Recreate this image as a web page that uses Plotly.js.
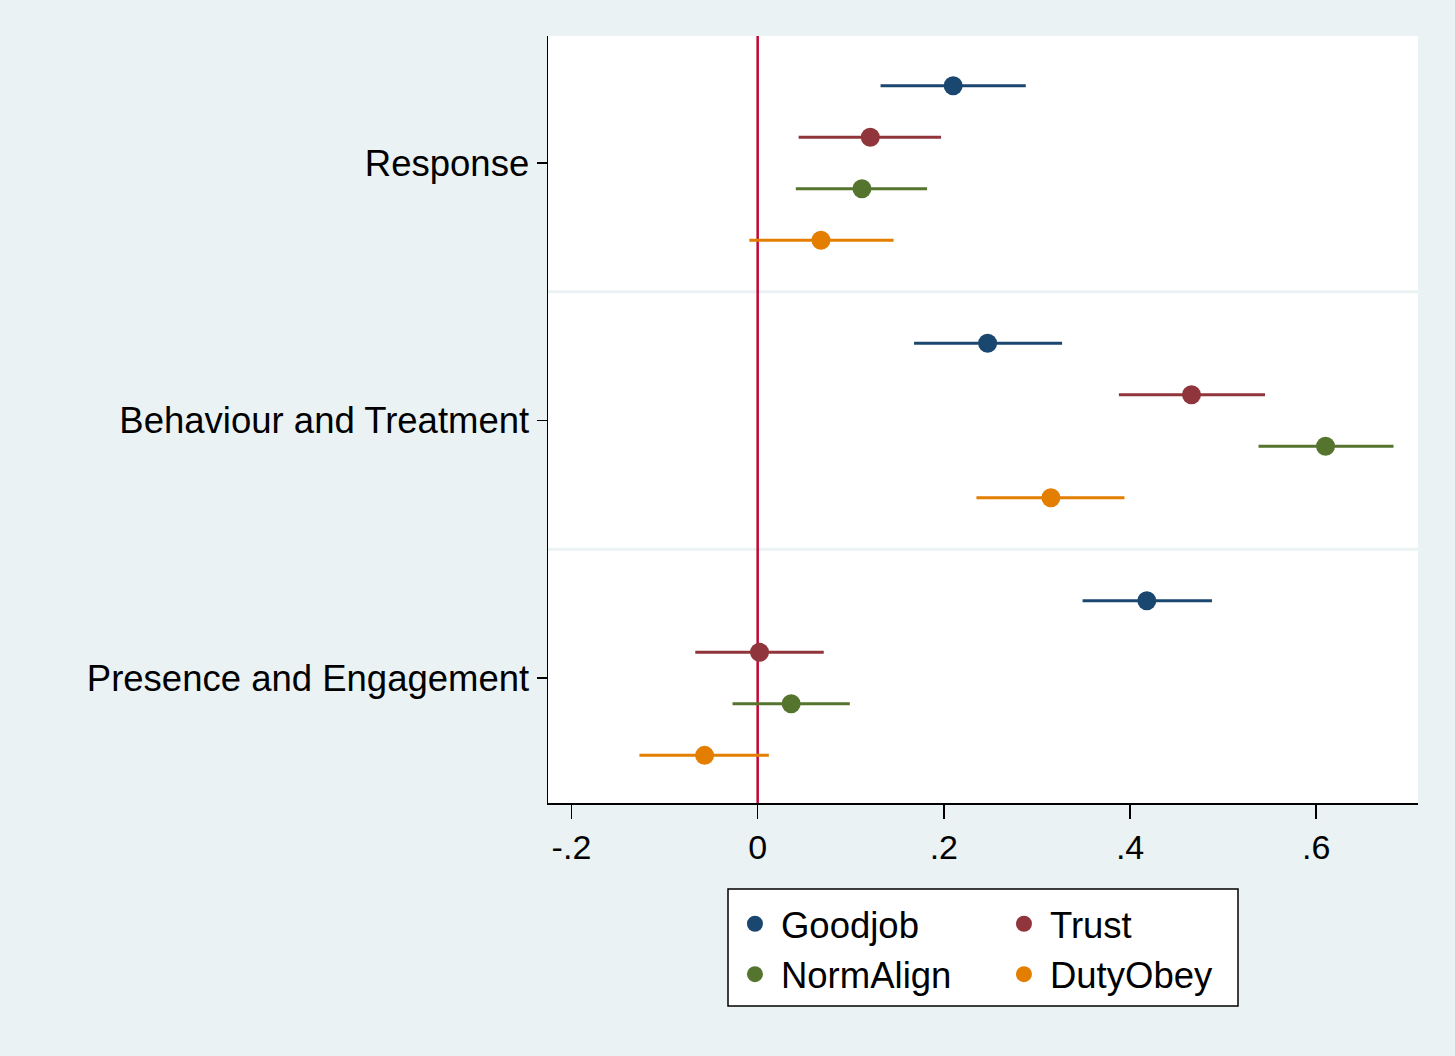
<!DOCTYPE html>
<html>
<head>
<meta charset="utf-8">
<script src="https://cdn.plot.ly/plotly-3.0.1.min.js"></script>
<style>html,body{margin:0;padding:0;background:#eaf2f3;}#chart{width:1455px;height:1056px;}</style>
</head>
<body>
<div id="chart"></div>
<script>
// Categories (top to bottom)
const categories = ["Response", "Behaviour and Treatment", "Presence and Engagement"];
const seriesNames = ["Goodjob", "Trust", "NormAlign", "DutyObey"];

// Point estimates per series, in category order
const goodjobEst   = [0.210, 0.247, 0.418];
const trustEst     = [0.121, 0.466, 0.002];
const normAlignEst = [0.112, 0.610, 0.036];
const dutyObeyEst  = [0.068, 0.315, -0.057];

// Lower confidence bounds
const goodjobLo   = [0.132, 0.168, 0.349];
const trustLo     = [0.044, 0.388, -0.067];
const normAlignLo = [0.041, 0.538, -0.027];
const dutyObeyLo  = [-0.009, 0.235, -0.127];

// Upper confidence bounds
const goodjobHi   = [0.288, 0.327, 0.488];
const trustHi     = [0.197, 0.545, 0.071];
const normAlignHi = [0.182, 0.683, 0.099];
const dutyObeyHi  = [0.146, 0.394, 0.012];

const xTickVals = [-0.2, 0, 0.2, 0.4, 0.6];
const xTickText = ["-.2", "0", ".2", ".4", ".6"];

const colors = ["#1a476f", "#90353b", "#55752f", "#e37e00"];
const est = [goodjobEst, trustEst, normAlignEst, dutyObeyEst];
const lo = [goodjobLo, trustLo, normAlignLo, dutyObeyLo];
const hi = [goodjobHi, trustHi, normAlignHi, dutyObeyHi];
const offsets = [0.3, 0.1, -0.1, -0.3];
const legendIds = ["legend", "legend2", "legend", "legend2"];
const nCat = categories.length;
const catPos = categories.map((c, i) => nCat - i);

const FONT = "Liberation Sans, Arial, Helvetica, sans-serif";

const traces = seriesNames.map((name, s) => ({
  type: "scatter",
  mode: "markers",
  name: name,
  legend: legendIds[s],
  legendgroup: "g" + s,
  x: est[s],
  y: catPos.map(p => p + offsets[s]),
  error_x: {
    type: "data",
    symmetric: false,
    array: est[s].map((v, i) => hi[s][i] - v),
    arrayminus: est[s].map((v, i) => v - lo[s][i]),
    color: colors[s],
    thickness: 3,
    width: 0
  },
  marker: {color: colors[s], size: 19, line: {width: 0}},
  hoverinfo: "x+name"
}));

const shapes = [];
for (let i = 1; i < nCat; i++) {
  shapes.push({type: "line", xref: "paper", x0: 0, x1: 1, yref: "y", y0: i + 0.5, y1: i + 0.5,
    line: {color: "#eaf2f3", width: 3}, layer: "below"});
}
shapes.push({type: "line", xref: "x", x0: 0, x1: 0, yref: "paper", y0: 0, y1: 1,
  line: {color: "#c10534", width: 2.5}, layer: "below"});
// legend frame
shapes.push({type: "rect", xref: "paper", yref: "paper", x0: 0.2069, x1: 0.7931, y0: -0.2647, y1: -0.1121,
  fillcolor: "#ffffff", line: {color: "#000", width: 1.5}, layer: "above"});

const legendBase = {
  orientation: "v",
  xanchor: "left",
  y: -0.118, yanchor: "top",
  bgcolor: "rgba(0,0,0,0)",
  borderwidth: 0,
  font: {family: FONT, size: 36.5, color: "#000"},
  itemwidth: 42,
  tracegroupgap: 4,
  traceorder: "normal"
};

const layout = {
  width: 1455, height: 1056,
  paper_bgcolor: "#eaf2f3",
  plot_bgcolor: "#ffffff",
  margin: {l: 548, r: 37, t: 36, b: 253},
  font: {family: FONT, color: "#000000", size: 34},
  showlegend: true,
  xaxis: {
    range: [-0.2252, 0.7093],
    tickvals: xTickVals, ticktext: xTickText,
    ticks: "outside", ticklen: 14, tickwidth: 1.5, tickcolor: "#000",
    showline: true, linecolor: "#000", linewidth: 1.5,
    showgrid: false, zeroline: false,
    tickfont: {family: FONT, size: 34, color: "#000"},
    fixedrange: true
  },
  yaxis: {
    range: [0.515, 3.493],
    tickvals: catPos, ticktext: categories,
    ticks: "outside", ticklen: 10, tickwidth: 1.5, tickcolor: "#000",
    showline: true, linecolor: "#000", linewidth: 1.5,
    showgrid: false, zeroline: false,
    tickfont: {family: FONT, size: 36.5, color: "#000"},
    fixedrange: true
  },
  shapes: shapes,
  legend: Object.assign({}, legendBase, {x: 0.2080}),
  legend2: Object.assign({}, legendBase, {x: 0.5172})
};

Plotly.newPlot("chart", traces, layout, {displayModeBar: false, staticPlot: true});
</script>
</body>
</html>
